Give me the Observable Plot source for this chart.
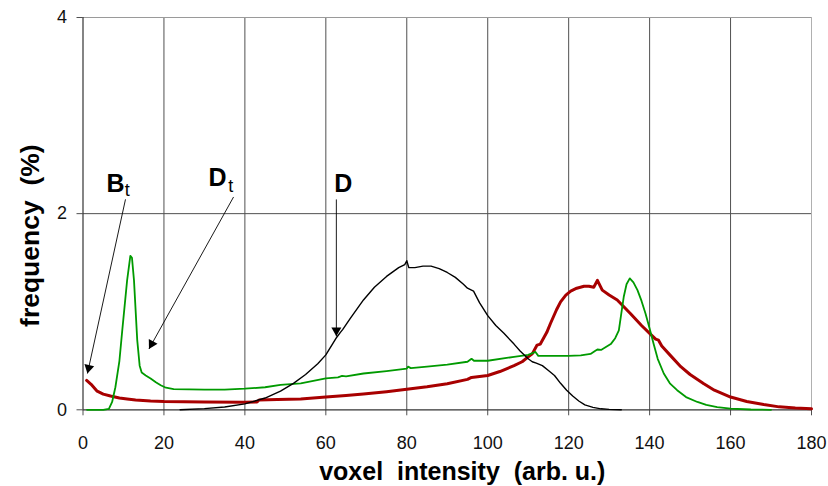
<!DOCTYPE html>
<html>
<head>
<meta charset="utf-8">
<script src="https://cdn.jsdelivr.net/npm/d3@7"></script>
<script src="https://cdn.jsdelivr.net/npm/@observablehq/plot@0.6"></script>
<style>
  html, body { margin: 0; padding: 0; background: #fff; }
</style>
</head>
<body>
<div id="chart"></div>
<script>
// ---- tick values ----
const xTicks = [0, 20, 40, 60, 80, 100, 120, 140, 160, 180];
const xGrid = [20, 40, 60, 80, 100, 120, 140, 160];
const yTicks = [0, 2, 4];

// ---- D (black) ----
const dX = [24, 30, 35, 40, 45, 48.8, 52, 55, 58, 60, 62.7, 63.6, 64.2, 66, 69.3, 72, 75, 78, 79.5, 80, 80.5, 82, 84, 86, 88, 90, 92, 94, 95, 96, 96.5, 98, 100, 102, 104, 106.5, 108, 110, 111, 112, 113.5, 115, 116.5, 118, 119.5, 121, 122.5, 124, 126, 128, 130, 133];
const dY = [0, 0.012, 0.028, 0.06, 0.12, 0.19, 0.27, 0.36, 0.47, 0.56, 0.74, 0.79, 0.82, 0.93, 1.12, 1.25, 1.36, 1.45, 1.48, 1.52, 1.45, 1.45, 1.465, 1.465, 1.44, 1.40, 1.35, 1.28, 1.24, 1.22, 1.21, 1.09, 0.96, 0.86, 0.78, 0.67, 0.60, 0.52, 0.49, 0.475, 0.45, 0.40, 0.35, 0.27, 0.20, 0.14, 0.09, 0.05, 0.025, 0.01, 0.004, 0];

// ---- Bt (red) ----
const bX = [0.9, 2, 3.5, 5, 6.8, 9, 10.9, 13, 16.7, 20, 30, 40, 43, 43.5, 48, 53.8, 60, 65, 69.3, 75, 80, 85, 90, 95, 96, 100, 103, 106.5, 108.5, 110, 111, 112.2, 113, 114.6, 115.5, 117, 118, 119.3, 120.5, 122, 123.8, 125, 126.2, 127.1, 128.3, 130, 132, 135.3, 138, 140, 141.5, 142.2, 143, 145, 147.7, 150, 153.4, 156, 160, 164, 168.2, 172, 176, 180];
const bY = [0.30, 0.26, 0.19, 0.16, 0.14, 0.12, 0.11, 0.10, 0.09, 0.085, 0.08, 0.078, 0.08, 0.10, 0.105, 0.11, 0.13, 0.145, 0.16, 0.185, 0.21, 0.235, 0.265, 0.31, 0.33, 0.35, 0.39, 0.45, 0.49, 0.54, 0.57, 0.66, 0.67, 0.79, 0.88, 1.02, 1.10, 1.17, 1.21, 1.24, 1.26, 1.26, 1.25, 1.32, 1.22, 1.17, 1.12, 0.98, 0.86, 0.78, 0.72, 0.71, 0.65, 0.56, 0.44, 0.36, 0.265, 0.20, 0.13, 0.085, 0.054, 0.03, 0.018, 0.01];

// ---- Dt (green) ----
const gX = [1, 5, 6.4, 7.2, 8, 9, 9.7, 10.9, 11.7, 12.1, 12.6, 13.4, 14, 14.5, 15.5, 16.7, 18, 19.2, 20.5, 22.4, 30, 35, 40, 45, 48.8, 53.8, 60, 63, 64, 65, 69.3, 75, 80, 80.3, 81, 85, 90, 95, 96, 96.6, 100, 106.5, 110, 111.8, 112.5, 116, 119.9, 123, 125.4, 126.5, 127.1, 128, 130.4, 131.5, 132.4, 133, 133.6, 134.3, 135.1, 136, 137, 138, 139, 140, 141, 142, 143.5, 145, 146.8, 149, 151.8, 154, 156.7, 160, 165, 170];
const gY = [0, 0, 0.01, 0.08, 0.23, 0.5, 0.81, 1.32, 1.57, 1.55, 1.32, 0.71, 0.45, 0.38, 0.35, 0.32, 0.28, 0.25, 0.225, 0.21, 0.205, 0.205, 0.215, 0.23, 0.255, 0.27, 0.32, 0.33, 0.345, 0.34, 0.37, 0.395, 0.42, 0.44, 0.425, 0.44, 0.46, 0.49, 0.52, 0.50, 0.50, 0.54, 0.56, 0.59, 0.55, 0.55, 0.55, 0.555, 0.57, 0.60, 0.615, 0.61, 0.67, 0.73, 0.81, 0.98, 1.15, 1.28, 1.34, 1.30, 1.22, 1.11, 0.98, 0.83, 0.67, 0.52, 0.37, 0.27, 0.20, 0.13, 0.08, 0.05, 0.027, 0.012, 0.003, 0];

// ---- annotations ----
const arrowX1 = [10.5, 37.2, 62.6];
const arrowY1 = [2.146, 2.17, 2.145];
const arrowX2 = [1.1, 16.3, 62.6];
const arrowY2 = [0.37, 0.62, 0.75];
const labelMain = ["B", "D", "D"];
const labelMainX = [5.8, 31.0, 62.1];
const labelMainY = [2.217, 2.279, 2.217];
const labelSub = ["t", "t"];
const labelSubX = [10.3, 35.9];
const labelSubY = [2.176, 2.22];

const xTitle = "voxel\u00a0\u00a0intensity\u00a0\u00a0(arb.\u00a0u.)";
const yTitle = "frequency\u00a0\u00a0(%)";

// ---- layout ----
const W = 828, H = 486;
const mL = 82.5, mR = 17, mT = 17, mB = 76.7;

const toRows = (xs, ys) => xs.map((x, i) => ({x, y: ys[i]}));

// arrowhead placement (mirrors Plot's linear scales)
const sx = d3.scaleLinear([0, 180], [mL, W - mR]);
const sy = d3.scaleLinear([0, 4], [H - mB, mT]);
const headR = 3.7;
const headY = Math.sqrt(headR * headR * Math.PI / (Math.sqrt(3) * 3)); // centroid->base
const heads = arrowX1.map((x1, i) => {
  const px1 = sx(x1), py1 = sy(arrowY1[i]), px2 = sx(arrowX2[i]), py2 = sy(arrowY2[i]);
  const dx = px2 - px1, dy = py2 - py1, len = Math.hypot(dx, dy);
  const cx = px2 - dx / len * 2 * headY, cy = py2 - dy / len * 2 * headY;
  return {x: sx.invert(cx), y: sy.invert(cy), a: Math.atan2(dx, -dy) * 180 / Math.PI};
});
const arrows = arrowX1.map((x1, i) => ({x1, y1: arrowY1[i], x2: arrowX2[i], y2: arrowY2[i]}));

const font = "'Liberation Sans', Arial, Helvetica, sans-serif";

const svg = Plot.plot({
  width: W, height: H,
  marginLeft: mL, marginRight: mR, marginTop: mT, marginBottom: mB,
  x: {domain: [0, 180]},
  y: {domain: [0, 4]},
  style: {fontFamily: font, background: "#fff", color: "#111", overflow: "visible"},
  marks: [
    Plot.ruleX(xGrid, {stroke: "#505050", strokeWidth: 1}),
    Plot.ruleX([180], {stroke: "#b0b0b0", strokeWidth: 1}),
    Plot.ruleY([2], {stroke: "#505050", strokeWidth: 1}),
    Plot.ruleY([4], {stroke: "#9a9a9a", strokeWidth: 1}),
    Plot.axisX(xTicks, {tickSize: 6, tickPadding: 20, fontSize: 18, label: null, stroke: "#505050", tickFormat: d => String(d)}),
    Plot.axisY(yTicks, {tickSize: 6, tickPadding: 10, fontSize: 18, label: null, stroke: "#505050", tickFormat: d => String(d)}),
    Plot.ruleY([0], {stroke: "#333", strokeWidth: 1.2}),
    Plot.ruleX([0], {stroke: "#333", strokeWidth: 1.2}),
    Plot.line(toRows(bX, bY), {x: "x", y: "y", stroke: "#a80000", strokeWidth: 3}),
    Plot.line(toRows(gX, gY), {x: "x", y: "y", stroke: "#009a00", strokeWidth: 1.8}),
    Plot.line(toRows(dX, dY), {x: "x", y: "y", stroke: "#000", strokeWidth: 1.4}),
    Plot.link(arrows, {x1: "x1", y1: "y1", x2: "x2", y2: "y2", stroke: "#000", strokeWidth: 0.9}),
    Plot.dot(heads, {x: "x", y: "y", rotate: "a", symbol: "triangle", r: headR, fill: "#000", stroke: "none"}),
    Plot.text(labelMain.map((t, i) => ({t, x: labelMainX[i], y: labelMainY[i]})),
      {x: "x", y: "y", text: "t", textAnchor: "start", lineAnchor: "bottom", fontSize: 25, fontWeight: "bold", fill: "#000"}),
    Plot.text(labelSub.map((t, i) => ({t, x: labelSubX[i], y: labelSubY[i]})),
      {x: "x", y: "y", text: "t", textAnchor: "start", lineAnchor: "bottom", fontSize: 18, fill: "#000"}),
    Plot.text([xTitle], {frameAnchor: "bottom", textAnchor: "middle", dx: 15, dy: 70, lineAnchor: "bottom", fontSize: 25, fontWeight: "bold", fill: "#000"}),
    Plot.text([yTitle], {frameAnchor: "left", textAnchor: "middle", dx: -52, dy: 22, rotate: -90, fontSize: 26.5, fontWeight: "bold", fill: "#000"})
  ]
});

document.getElementById("chart").appendChild(svg);
</script>
</body>
</html>
